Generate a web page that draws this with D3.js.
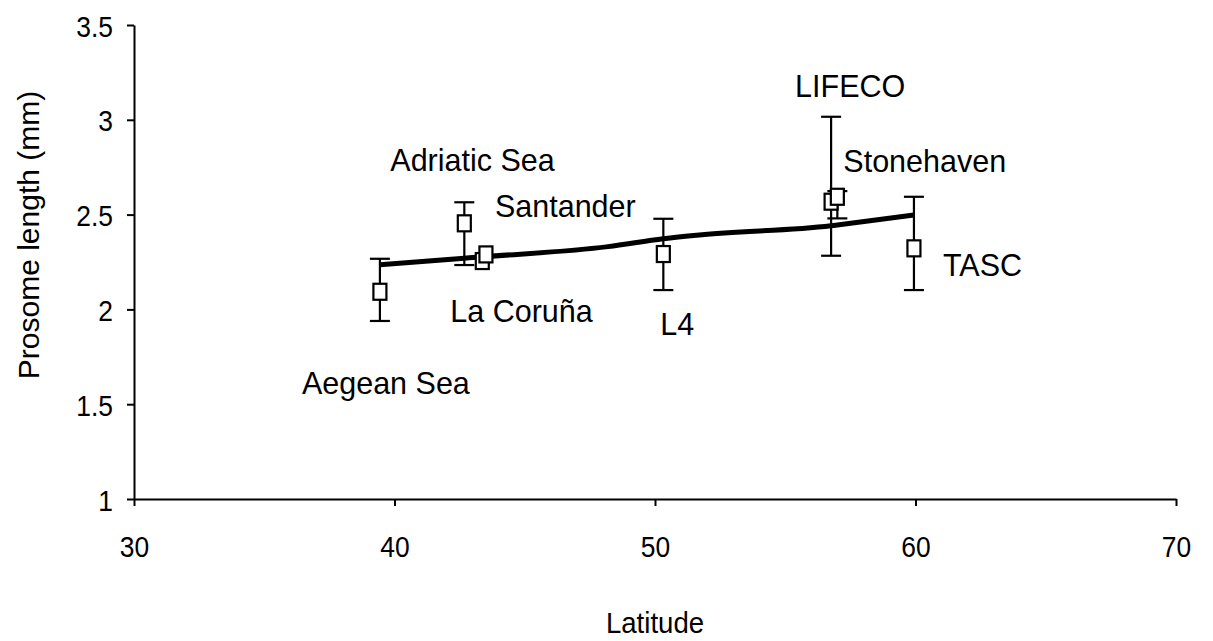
<!DOCTYPE html>
<html>
<head>
<meta charset="utf-8">
<script src="https://cdn.jsdelivr.net/npm/d3@7"></script>
<style>
  html, body { margin: 0; padding: 0; background: #fff; }
  svg { display: block; font-family: "Liberation Sans", Arial, sans-serif; }
</style>
</head>
<body>
<svg id="chart" width="1213" height="641"></svg>
<script>
// Station names, latitude (°N) and mean prosome length (mm) with error range
const stations  = ["Aegean Sea", "Adriatic Sea", "La Coruña", "Santander", "L4", "LIFECO", "Stonehaven", "TASC"];
const latitudes = [39.44, 42.68, 43.37, 43.51, 50.32, 56.76, 57.0, 59.94];
const lengths   = [2.093, 2.454, 2.255, 2.29, 2.292, 2.568, 2.594, 2.322];
const upper     = [2.267, 2.565, null, null, 2.478, 3.016, 2.624, 2.594];
const lower     = [1.939, 2.234, null, null, 2.102, 2.283, 2.48, 2.102];

// Trend through latitude
const trendLat = [39.44, 42.68, 43.45, 48.2, 50.32, 51.7, 56.76, 57.0, 59.94];
const trendVal = [2.236, 2.27, 2.278, 2.331, 2.373, 2.393, 2.441, 2.445, 2.498];

const xTicks = [30, 40, 50, 60, 70];
const yTicks = [1, 1.5, 2, 2.5, 3, 3.5];

const svg = d3.select("#chart");
const x = d3.scaleLinear().domain([30, 70]).range([134, 1176]);
const y = d3.scaleLinear().domain([1, 3.5]).range([499, 25]);

// Axes
const xAxis = svg.append("g")
  .attr("transform", `translate(0,${y(1)})`)
  .call(d3.axisBottom(x).tickValues(xTicks).tickSize(7).tickSizeOuter(0).tickFormat(d3.format("d")));
const yAxis = svg.append("g")
  .attr("transform", `translate(${x(30)},0)`)
  .call(d3.axisLeft(y).tickValues(yTicks).tickSize(7).tickSizeOuter(0).tickFormat(d => String(d)));

[xAxis, yAxis].forEach(a => {
  a.select(".domain").attr("stroke", "#000").attr("stroke-width", 2);
  a.selectAll(".tick line").attr("stroke", "#000").attr("stroke-width", 2);
  a.selectAll(".tick text").attr("fill", "#000").style("font-size", "30px")
    .style("font-family", '"Liberation Sans", Arial, sans-serif');
});
xAxis.selectAll(".tick text").attr("y", 0).attr("dy", 0)
  .attr("transform", "translate(0,58) scale(0.88,1)");
yAxis.selectAll(".tick text").attr("x", 0).attr("dy", 0)
  .attr("transform", "translate(-21,11) scale(0.88,1)");

// Axis titles
svg.append("text").attr("transform", "translate(655,633) scale(0.92,1)").attr("text-anchor", "middle")
  .style("font-size", "30px").text("Latitude");
svg.append("text").attr("transform", "translate(39,235) rotate(-90)").attr("text-anchor", "middle")
  .style("font-size", "30px").text("Prosome length (mm)");

const pts = stations.map((s, i) => ({ name: s, lat: latitudes[i], val: lengths[i], hi: upper[i], lo: lower[i] }));

// Error bars
const eb = svg.append("g").attr("stroke", "#000").attr("stroke-width", 2.2);
pts.filter(d => d.hi != null).forEach(d => {
  const cx = x(d.lat);
  eb.append("line").attr("x1", cx).attr("x2", cx).attr("y1", y(d.hi)).attr("y2", y(d.lo));
  [d.hi, d.lo].forEach(v => eb.append("line").attr("x1", cx - 10).attr("x2", cx + 10).attr("y1", y(v)).attr("y2", y(v)));
});

// Trend line
const trend = trendLat.map((t, i) => [t, trendVal[i]]);
svg.append("path").datum(trend)
  .attr("fill", "none").attr("stroke", "#000").attr("stroke-width", 5)
  .attr("stroke-linejoin", "round")
  .attr("d", d3.line().x(d => x(d[0])).y(d => y(d[1])).curve(d3.curveMonotoneX));

// Square markers
svg.append("g").selectAll("rect").data(pts).join("rect")
  .attr("x", d => x(d.lat) - 6.5).attr("y", d => y(d.val) - 8)
  .attr("width", 13).attr("height", 16)
  .attr("fill", "#fff").attr("stroke", "#000").attr("stroke-width", 2.2);

// Station labels, offset from their markers
const labelOffset = {
  "Aegean Sea": [-78, 102], "Adriatic Sea": [-74, -52], "La Coruña": [-32, 61], "Santander": [9, -37],
  "L4": [-3, 81], "LIFECO": [-36, -105], "Stonehaven": [6, -25], "TASC": [29, 28]
};
svg.append("g").selectAll("text").data(pts).join("text")
  .attr("x", d => x(d.lat) + labelOffset[d.name][0])
  .attr("y", d => y(d.val) + labelOffset[d.name][1])
  .style("font-size", "30.5px").attr("fill", "#000")
  .text(d => d.name);
</script>
</body>
</html>
